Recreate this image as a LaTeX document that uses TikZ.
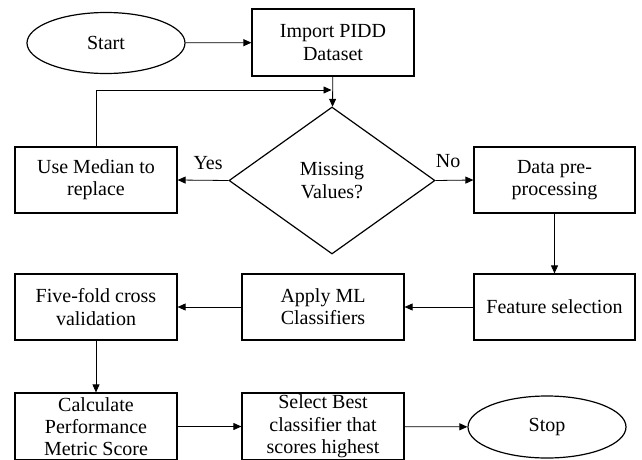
\documentclass[tikz,border=0pt]{standalone}
\usepackage{fontspec}
\setmainfont{Liberation Serif}
\usetikzlibrary{shapes.geometric,arrows.meta}
\begin{document}
\begin{tikzpicture}[x=1pt,y=-1pt,
    every node/.style={font=\fontsize{20}{22.3}\selectfont, align=center, inner sep=0pt},
    box/.style={draw, line width=1.2pt, minimum width=162pt, minimum height=66pt},
    oval/.style={draw, ellipse, line width=1.2pt, minimum width=158pt, minimum height=61pt},
    decide/.style={draw, diamond, line width=1.2pt, minimum width=206pt, minimum height=147pt},
    arr/.style={line width=0.8pt, -{Triangle[length=8pt,width=7pt]}}]
    \useasboundingbox (0,0) rectangle (642,460);
    % top row
    \node[oval] (start) at (106,43) {Start};
    \node[box, minimum height=67pt] (import) at (333,42.5) {Import PIDD\\Dataset};
    % decision row
    \node[decide] (miss) at (332,180.5) {Missing\\Values?};
    \node[box] (median) at (96,180) {Use Median to\\replace};
    \node[box, minimum width=161pt] (datapre) at (554.5,180) {Data pre-\\processing};
    % third row
    \node[box, minimum width=161pt] (feature) at (554.5,307) {Feature selection};
    \node[box] (apply) at (323,307) {Apply ML\\Classifiers};
    \node[box] (fivefold) at (96,307) {Five-fold cross\\validation};
    % bottom row
    \node[box, minimum height=67pt] (calc) at (96,426.5) {Calculate\\Performance\\Metric Score};
    \node[box, minimum height=67pt] (select) at (323,426.5) {Select Best\\classifier that\\scores highest};
    \node[oval, minimum height=62pt] (stop) at (547,427) {Stop};
    \coordinate (back) at (331.5,90);
    \draw[arr] (start) -- (import);
    \draw[arr] (import) -- (miss);
    \draw[arr] (median.north) |- (back);
    \draw[arr] (miss.west) -- (median.east) node[pos=0.4, yshift=17pt] (yes) {Yes};
    \draw[arr] (miss.east) -- (datapre.west) node[pos=0.33, yshift=19pt] (no) {No};
    \draw[arr] (datapre) -- (feature);
    \draw[arr] (feature) -- (apply);
    \draw[arr] (apply) -- (fivefold);
    \draw[arr] (fivefold) -- (calc);
    \draw[arr] (calc) -- (select);
    \draw[arr] (select) -- (stop);
\end{tikzpicture}
\end{document}
